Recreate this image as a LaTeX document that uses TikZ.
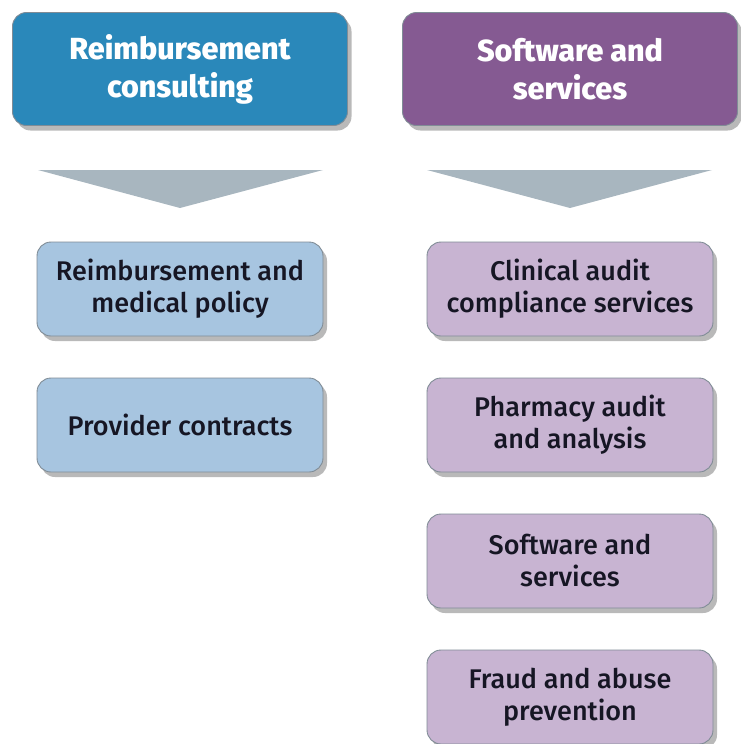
\documentclass[tikz,border=0pt]{standalone}
\usepackage{fontspec}
\setmainfont{Fira Sans Medium}[BoldFont={Fira Sans ExtraBold}]
\usepackage{tikz}
\usetikzlibrary{shadows}
\usetikzlibrary{positioning}
\definecolor{headblue}{RGB}{42, 136, 186}
\definecolor{headpurple}{RGB}{133, 90, 146}
\definecolor{boxblue}{RGB}{167, 197, 224}
\definecolor{boxpurple}{RGB}{200, 180, 210}
\definecolor{arrowgrey}{RGB}{168, 182, 191}
\definecolor{edgegrey}{RGB}{128, 140, 150}
\definecolor{inkdark}{RGB}{22, 22, 36}

\tikzset{
  panel/.style={rounded corners=14pt, draw=edgegrey, line width=0.9pt,
                minimum width=335pt, minimum height=113pt, align=center,
                inner sep=0pt,
                drop shadow={opacity=0.55, shadow xshift=4pt, shadow yshift=-5pt}},
  headbox/.style={panel, text=white,
                  font=\fontsize{30.5}{38}\selectfont\bfseries},
  itembox/.style={panel, minimum width=286pt, minimum height=94pt,
                  text=inkdark, font=\fontsize{27}{32}\selectfont},
}

\begin{document}
\begin{tikzpicture}[x=1pt, y=-1pt]
        \useasboundingbox (0,0) rectangle (740,744);
        % headers
        \node[headbox, fill=headblue]   (reimb) at (180, 69) {Reimbursement\\consulting};
        \node[headbox, fill=headpurple] (soft)  at (570, 69) {Software and\\services};
        % arrows
        \fill[arrowgrey] (38,170) -- (323,170) -- (180,208) -- cycle;
        \fill[arrowgrey] (427,170) -- (712,170) -- (570,208) -- cycle;
        % left column
        \node[itembox, fill=boxblue] (policy)    at (180, 289) {Reimbursement and\\medical policy};
        \node[itembox, fill=boxblue] (contracts) at (180, 425) {Provider contracts};
        % right column
        \node[itembox, fill=boxpurple] (clinical) at (570, 289) {Clinical audit\\compliance services};
        \node[itembox, fill=boxpurple] (pharmacy) at (570, 425) {Pharmacy audit\\and analysis};
        \node[itembox, fill=boxpurple] (software) at (570, 561) {Software and\\services};
        \node[itembox, fill=boxpurple] (fraud)    at (570, 697) {Fraud and abuse\\prevention};
\end{tikzpicture}
\end{document}
